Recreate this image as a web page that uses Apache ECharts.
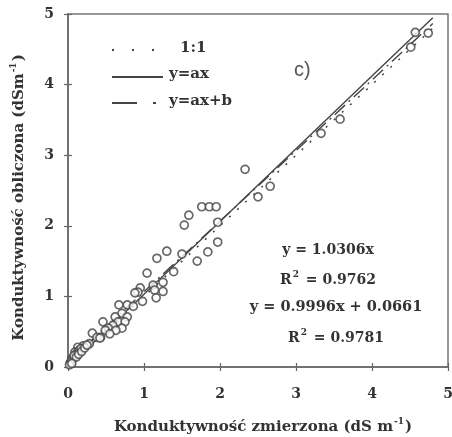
<!DOCTYPE html>
<html>
<head>
<meta charset="utf-8">
<script src="https://cdn.jsdelivr.net/npm/echarts@6/dist/echarts.min.js"></script>
<style>
  html, body { margin: 0; padding: 0; background: #fff; }
  #chart { width: 452px; height: 437px; }
</style>
</head>
<body>
<div id="chart"></div>
<script>
// Measured vs. calculated conductivity (dS m-1)
const measured = [
  4.57, 4.74, 4.51, 3.58, 3.33, 2.66, 2.50, 2.33,
  1.76, 1.86, 1.95, 1.59, 1.53, 1.97, 1.97, 1.84, 1.70, 1.50, 1.30, 1.17,
  1.39, 1.04, 1.25, 1.12, 1.14, 1.25, 1.16, 0.95, 0.92, 0.88, 0.98,
  0.67, 0.78, 0.86, 0.71, 0.62, 0.78, 0.66, 0.75, 0.59, 0.71, 0.53, 0.46,
  0.63, 0.49, 0.55, 0.43, 0.32, 0.38, 0.42, 0.28, 0.20, 0.13, 0.09, 0.07,
  0.05, 0.03, 0.10, 0.12, 0.15, 0.17, 0.06, 0.04, 0.08, 0.11, 0.14, 0.02,
  0.05, 0.18, 0.22, 0.25
];
const calculated = [
  4.74, 4.73, 4.53, 3.51, 3.31, 2.56, 2.41, 2.80,
  2.27, 2.27, 2.27, 2.15, 2.01, 2.05, 1.77, 1.63, 1.50, 1.60, 1.64, 1.54,
  1.35, 1.33, 1.20, 1.16, 1.09, 1.07, 0.98, 1.12, 1.06, 1.05, 0.93,
  0.88, 0.88, 0.86, 0.76, 0.71, 0.71, 0.64, 0.64, 0.59, 0.55, 0.55, 0.64,
  0.52, 0.52, 0.47, 0.42, 0.48, 0.42, 0.41, 0.33, 0.30, 0.28, 0.21, 0.14,
  0.10, 0.06, 0.17, 0.20, 0.24, 0.26, 0.12, 0.07, 0.16, 0.14, 0.18, 0.03,
  0.05, 0.22, 0.27, 0.31
];
const axisTicks = [0, 1, 2, 3, 4, 5];

// Regression coefficients
const slopeOnly = 1.0306;          // y = ax
const slopeFull = 0.9996;          // y = ax + b
const interceptFull = 0.0661;
const lineEnd = 4.8;

const points = measured.map((m, i) => [m, calculated[i]]);
const oneToOne = [[0, 0], [lineEnd, lineEnd]];
const fitAx = [[0, 0], [lineEnd, slopeOnly * lineEnd]];
const fitAxB = [[0, interceptFull], [lineEnd, slopeFull * lineEnd + interceptFull]];

const ink = '#444';
const serif = '"DejaVu Serif", "Liberation Serif", serif';

const chart = echarts.init(document.getElementById('chart'));

const tickLabel = {
  fontFamily: serif, fontWeight: 'bold', fontSize: 14, color: '#333'
};
const supRich = {
  a: { fontFamily: serif, fontWeight: 'bold', fontSize: 15, color: '#333' },
  s: { fontFamily: serif, fontWeight: 'bold', fontSize: 9, color: '#333', padding: [0, 1, 12, 1] }
};

chart.setOption({
  animation: false,
  backgroundColor: '#fff',
  grid: {
    left: 68, right: 4, top: 14, bottom: 70,
    outerBoundsMode: 'none', containLabel: false,
    show: true, borderColor: '#777', borderWidth: 1.5
  },
  xAxis: [{
    type: 'value', min: 0, max: 5, interval: 1,
    axisLine: { lineStyle: { color: '#666', width: 1.5 } },
    axisTick: { length: 4, lineStyle: { color: '#666', width: 1.2 } },
    splitLine: { show: false },
    axisLabel: Object.assign({ margin: 20, formatter: v => axisTicks.includes(v) ? String(v) : '' }, tickLabel),
    name: '{a|Konduktywność zmierzona (dS m}{s|-1}{a|)}',
    nameLocation: 'middle', nameGap: 50,
    nameTextStyle: { rich: supRich, padding: [0, 0, 0, 10] }
  }, {
    type: 'value', min: 0, max: 5, interval: 1, position: 'bottom',
    axisLine: { show: false },
    axisTick: { inside: true, length: 4, lineStyle: { color: '#666', width: 1.2 } },
    axisLabel: { show: false }, splitLine: { show: false }
  }],
  yAxis: [{
    type: 'value', min: 0, max: 5, interval: 1,
    axisLine: { show: true, lineStyle: { color: '#666', width: 1.5 } },
    axisTick: { show: true, length: 4, lineStyle: { color: '#666', width: 1.2 } },
    splitLine: { show: false },
    axisLabel: Object.assign({ margin: 14 }, tickLabel),
    name: '{a|Konduktywność obliczona (dSm}{s|-1}{a|)}',
    nameLocation: 'middle', nameGap: 38, nameRotate: 90,
    nameTextStyle: { rich: supRich, padding: [0, 14, 0, 0] }
  }, {
    type: 'value', min: 0, max: 5, interval: 1, position: 'left',
    axisLine: { show: false },
    axisTick: { show: true, inside: true, length: 4, lineStyle: { color: '#666', width: 1.2 } },
    axisLabel: { show: false }, splitLine: { show: false }
  }],
  series: [{
    name: '1:1', type: 'line', data: oneToOne, symbol: 'none',
    lineStyle: { color: ink, width: 1.5, type: [2, 9] }, z: 3
  }, {
    name: 'y=ax', type: 'line', data: fitAx, symbol: 'none',
    lineStyle: { color: ink, width: 1.4 }, z: 3
  }, {
    name: 'y=ax+b', type: 'line', data: fitAxB, symbol: 'none',
    lineStyle: { color: ink, width: 1.4, type: [14, 5, 2, 5] }, z: 3
  }, {
    name: 'pomiary', type: 'scatter', data: points,
    symbol: 'circle', symbolSize: 8,
    itemStyle: { color: '#fff', borderColor: '#444', borderWidth: 1.7 }, z: 4
  }],
  graphic: [
    // legend
    { type: 'line', shape: { x1: 112, y1: 50, x2: 158, y2: 50 },
      style: { stroke: ink, lineWidth: 2, lineDash: [2, 18] } },
    { type: 'text', left: 180, top: 41,
      style: { text: '1:1', font: 'bold 15px ' + serif, fill: '#333' } },
    { type: 'line', shape: { x1: 112, y1: 77, x2: 163, y2: 77 },
      style: { stroke: ink, lineWidth: 2 } },
    { type: 'text', left: 169, top: 67,
      style: { text: 'y=ax', font: 'bold 15px ' + serif, fill: '#333' } },
    { type: 'line', shape: { x1: 112, y1: 103, x2: 158, y2: 103 },
      style: { stroke: ink, lineWidth: 2, lineDash: [25, 16, 3, 10] } },
    { type: 'text', left: 169, top: 94,
      style: { text: 'y=ax+b', font: 'bold 15px ' + serif, fill: '#333' } },
    // panel tag
    { type: 'text', left: 294, top: 60,
      style: { text: 'c)', font: '20px "Liberation Sans", Arial, sans-serif', fill: '#555' } },
    // equations
    { type: 'text', x: 328, y: 250,
      style: { text: 'y = 1.0306x', font: 'bold 14px ' + serif, fill: '#333',
        align: 'center', verticalAlign: 'middle' } },
    { type: 'text', x: 328, y: 280,
      style: { text: '{a|R}{s|2}{a| = 0.9762}', align: 'center', verticalAlign: 'middle',
        rich: {
          a: { font: 'bold 14px ' + serif, fill: '#333' },
          s: { font: 'bold 9px ' + serif, fill: '#333', padding: [0, 2, 11, 1] }
        } } },
    { type: 'text', x: 336, y: 307,
      style: { text: 'y = 0.9996x + 0.0661', font: 'bold 14.5px ' + serif, fill: '#333',
        align: 'center', verticalAlign: 'middle' } },
    { type: 'text', x: 336, y: 338,
      style: { text: '{a|R}{s|2}{a| = 0.9781}', align: 'center', verticalAlign: 'middle',
        rich: {
          a: { font: 'bold 14px ' + serif, fill: '#333' },
          s: { font: 'bold 9px ' + serif, fill: '#333', padding: [0, 2, 11, 1] }
        } } }
  ]
});
</script>
</body>
</html>
